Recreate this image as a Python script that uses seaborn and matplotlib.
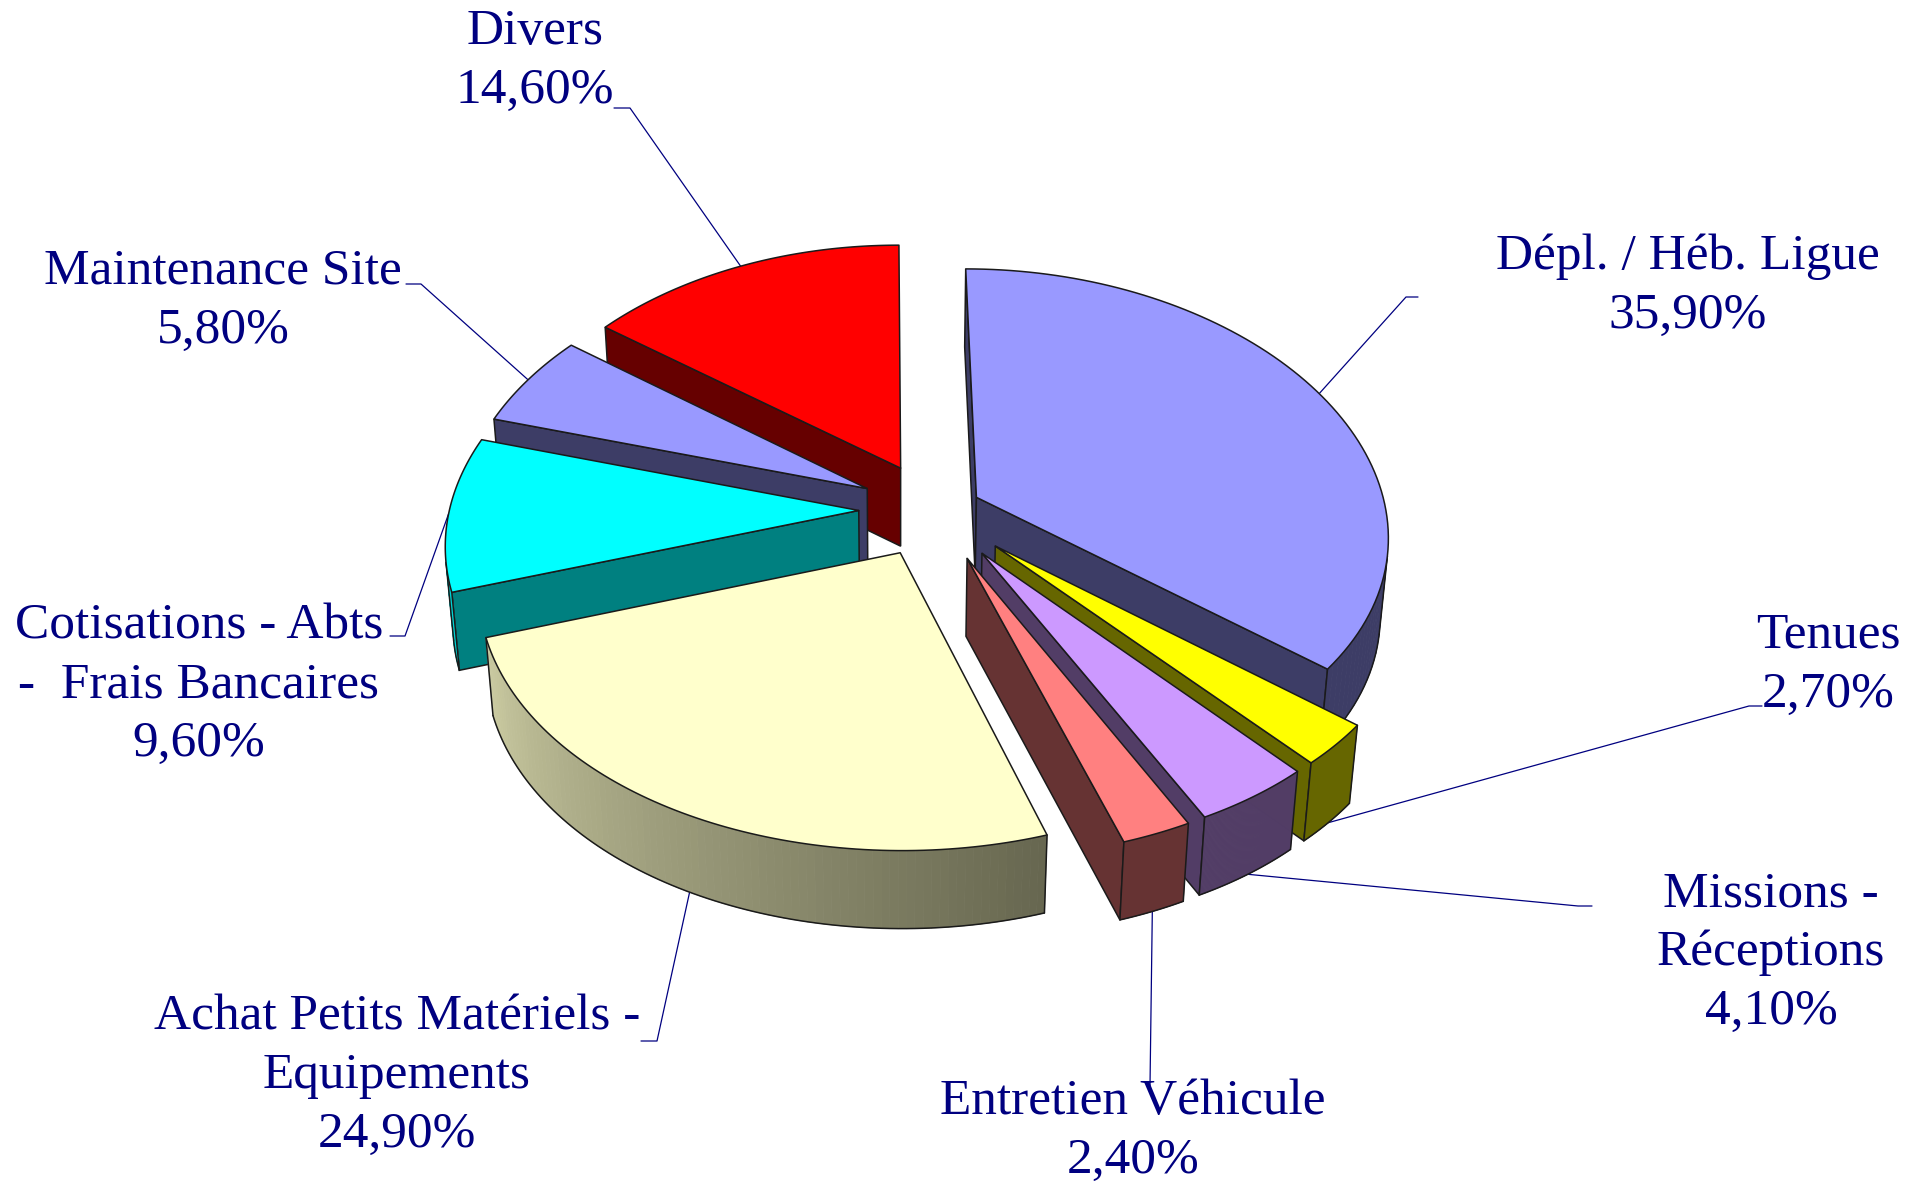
import numpy as np
import matplotlib
matplotlib.use("Agg")
import matplotlib.pyplot as plt
import seaborn as sns

# values, clockwise from the top
names = ["Dépl. / Héb. Ligue", "Tenues", "Missions -\nRéceptions", "Entretien Véhicule",
         "Achat Petits Matériels -\nEquipements", "Cotisations - Abts\n-  Frais Bancaires",
         "Maintenance Site", "Divers"]
shares = [35.9, 2.7, 4.1, 2.4, 24.9, 9.6, 5.8, 14.6]

top_colors = ["#9999FF", "#FFFF00", "#CC99FF", "#FF8080", "#FFFFCC", "#00FFFF", "#9999FF", "#FF0000"]
side_colors = ["#3D3D66", "#666600", "#523D66", "#663333", "#66664F", "#008080", "#3D3D66", "#660000"]
explode = [0.115, 0.2, 0.2, 0.2, 0.185, 0.185, 0.185, 0.185]

# label centres and leader elbows, in pixels
label_pos = [(1688, 286), (1828, 665), (1771, 953), (1133, 1131), (397, 1076), (199, 685), (223, 301), (535, 61)]
elbows = [[(1406, 297), (1418, 297)], [(1749, 706), (1762, 706)], [(1578, 906), (1592, 906)], [(1150, 1086)],
          [(657, 1041), (641, 1041)], [(405, 636), (390, 636)], [(421, 284), (406, 284)], [(630, 108), (614, 108)]]
leader_level = ["top", "bottom", "bottom", "bottom", "bottom", "top", "top", "top"]

# perspective of the pie, fitted by eye
VANISH_X, HORIZON = 886, -1430
CU, CV, RU, RV = 25, 0.5155, 211, 0.068
BEND = 0.0016
THICK = 78
DOWN_X, DOWN_Y = 900, 5200


def to_top(u, v):
    s = CV + RV * v + BEND * v * v
    return VANISH_X + (CU + RU * u) / s, HORIZON + 1000 / s


def to_bottom(x, y):
    return x + (DOWN_X - x) * THICK / (DOWN_Y - y), y + THICK


def blend(c, other, t):
    a = np.array(matplotlib.colors.to_rgb(c))
    b = np.array(matplotlib.colors.to_rgb(other))
    return tuple(a * (1 - t) + b * t)


def area(q):
    q = np.array(q)
    return 0.5 * np.sum(q[:, 0] * np.roll(q[:, 1], -1) - np.roll(q[:, 0], -1) * q[:, 1])


sns.set_theme(style="white")
plt.rcParams["font.family"] = ["Liberation Serif", "DejaVu Serif"]

fig = plt.figure(figsize=(19.25, 11.82), dpi=100)
ax = fig.add_axes([0, 0, 1, 1])
ax.set_xlim(0, 1925)
ax.set_ylim(1182, 0)
ax.axis("off")

palette = sns.color_palette(top_colors)
edges = np.cumsum([0] + shares) / 100 * 2 * np.pi
EDGE = "#1a1a1a"


def draw_slice(i, z):
    a0, a1 = edges[i], edges[i + 1]
    mid = (a0 + a1) / 2
    ox, oy = explode[i] * np.sin(mid), explode[i] * np.cos(mid)
    apex = to_top(ox, oy)
    th = np.linspace(a0, a1, 90)
    arc = [to_top(ox + np.sin(t), oy + np.cos(t)) for t in th]
    arc_b = [to_bottom(*p) for p in arc]
    apex_b = to_bottom(*apex)

    # radial walls
    for q in ([apex, arc[0], arc_b[0], apex_b], [arc[-1], apex, apex_b, arc_b[-1]]):
        if area(q) < 0:
            ax.fill(*zip(*q), facecolor=side_colors[i], edgecolor=EDGE, lw=1.1, zorder=z)
    # outer wall, split in strips for the shading
    shown = []
    for j in range(len(th) - 1):
        q = [arc[j], arc[j + 1], arc_b[j + 1], arc_b[j]]
        if area(q) >= 0:
            continue
        shown.append(j)
        deg = np.degrees((th[j] + th[j + 1]) / 2)
        light = np.clip((deg - 162) / 90, 0, 1)
        c = blend(side_colors[i], top_colors[i], 0.66 * light) if i >= 4 else side_colors[i]
        ax.fill(*zip(*q), facecolor=c, edgecolor=c, lw=0.6, zorder=z)
    if shown:
        a, b = shown[0], shown[-1] + 1
        ax.plot(*zip(*arc_b[a:b + 1]), color=EDGE, lw=1.1, zorder=z)
        ax.plot(*zip(arc[a], arc_b[a]), color=EDGE, lw=1.1, zorder=z)
        ax.plot(*zip(arc[b], arc_b[b]), color=EDGE, lw=1.1, zorder=z)
    # top face
    ax.fill(*zip(*([apex] + arc)), facecolor=palette[i], edgecolor=EDGE, lw=1.1, joinstyle="round", zorder=z + 0.5)

    # leader and label
    p = to_top(ox + np.sin(mid), oy + np.cos(mid))
    if leader_level[i] == "bottom":
        p = to_bottom(*p)
    ax.plot(*zip(*([p] + elbows[i])), color="#000080", lw=0.9, zorder=0)
    value = f"{shares[i]:.2f}".replace(".", ",")
    ax.text(*label_pos[i], f"{names[i]}\n{value}%", color="#000080", fontsize=37, ha="center", va="center",
            multialignment="center", linespacing=1.35, zorder=20)


# back to front, so nearer slices cover the others
for z, i in enumerate([0, 1, 2, 3, 7, 6, 5, 4], start=1):
    draw_slice(i, z)

fig.savefig("out.png", dpi=100, facecolor="white")
